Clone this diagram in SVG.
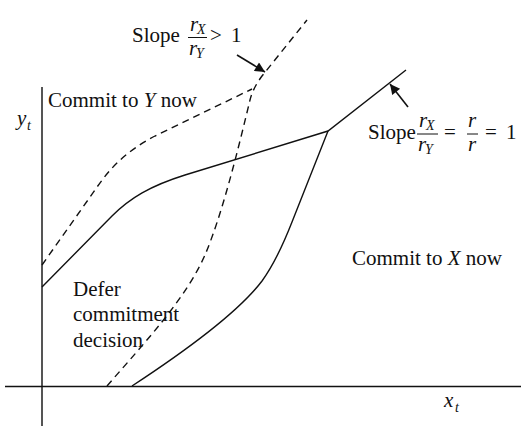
<svg xmlns="http://www.w3.org/2000/svg" width="521" height="426" viewBox="0 0 521 426">
<defs>
<style>
text{font-family:"Liberation Serif","Times New Roman",serif;font-size:21px;fill:#111}
.i{font-style:italic}
.s{font-size:14px;font-style:italic}
.c{fill:none;stroke:#111;stroke-width:1.4}
.d{fill:none;stroke:#111;stroke-width:1.4;stroke-dasharray:7,5}
.bar{stroke:#111;stroke-width:1}
</style>
<marker id="ah" viewBox="0 0 10 10" refX="10" refY="5" markerWidth="12" markerHeight="10" markerUnits="userSpaceOnUse" orient="auto">
<path d="M0,0 L10,5 L0,10 z" fill="#111"/>
</marker>
</defs>
<rect width="521" height="426" fill="#fff"/>
<g id="axes">
<line x1="42" y1="87" x2="42" y2="426" stroke="#555" stroke-width="2"/>
<line x1="5" y1="386.5" x2="521" y2="386.5" stroke="#111" stroke-width="1.6"/>
<text x="17" y="125" class="i">y</text><text x="27" y="130" class="s">t</text>
<text x="444" y="407" class="i">x</text><text x="455" y="412" class="s">t</text>
</g>
<g id="connectors">
<path id="upper-solid" class="c" d="M42,287 L112,216 C130,198 150,186 185,175 L328,131 L406,70"/>
<path id="lower-solid" class="c" d="M132,386 C190,348 240,310 262,281 C275,263 283,245 292,222 L328,131"/>
<path id="y-dashed" class="d" d="M42,265 L95,190 C110,168 125,152 155,136 L252,89"/>
<path id="x-dashed" class="d" d="M107,386 C145,342 185,300 205,255 C222,215 238,150 250,100 Q253,88 262,76 L307,20"/>
<line x1="237" y1="55" x2="265" y2="72" stroke="#111" stroke-width="1.6" marker-end="url(#ah)"/>
<line x1="408" y1="107" x2="390" y2="84" stroke="#111" stroke-width="1.6" marker-end="url(#ah)"/>
</g>
<g id="region-y"><text x="48" y="107">Commit to <tspan class="i">Y</tspan> now</text></g>
<g id="region-defer">
<text x="73" y="296">Defer</text>
<text x="73" y="321">commitment</text>
<text x="73" y="347">decision</text>
</g>
<g id="region-x"><text x="352" y="265">Commit to <tspan class="i">X</tspan> now</text></g>
<g id="label-slope1">
<text x="132" y="42">Slope</text>
<line class="bar" x1="188" y1="37.5" x2="207" y2="37.5"/>
<text x="190" y="31" class="i">r</text><text x="197" y="34" class="s">X</text>
<text x="189" y="55" class="i">r</text><text x="196" y="58" class="s">Y</text>
<text x="210" y="42">&gt;</text>
<text x="231" y="42">1</text>
</g>
<g id="label-slope2">
<text x="368" y="139">Slope</text>
<line class="bar" x1="417" y1="134" x2="438" y2="134"/>
<text x="419" y="127" class="i">r</text><text x="426" y="130" class="s">X</text>
<text x="418" y="151" class="i">r</text><text x="425" y="154" class="s">Y</text>
<text x="444" y="139">=</text>
<line class="bar" x1="467" y1="134" x2="478" y2="134"/>
<text x="468" y="127" class="i">r</text>
<text x="468" y="151" class="i">r</text>
<text x="485" y="139">=</text>
<text x="506" y="139">1</text>
</g>
</svg>
